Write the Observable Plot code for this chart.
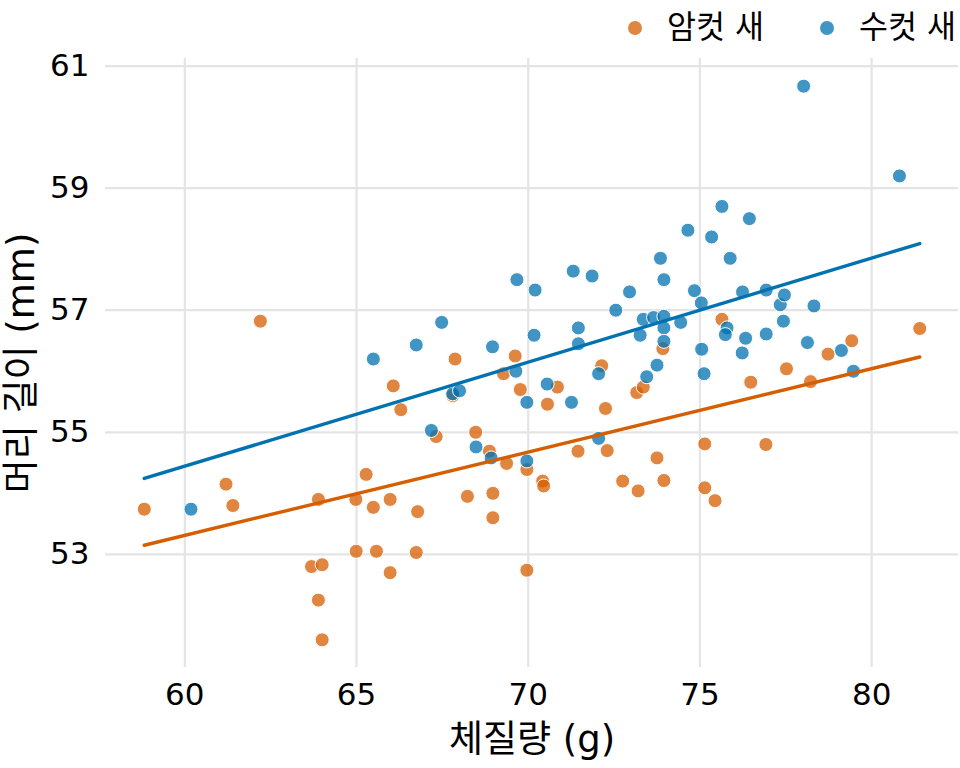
<!DOCTYPE html>
<html>
<head>
<meta charset="utf-8">
<script src="https://cdn.jsdelivr.net/npm/d3@7"></script>
<script src="https://cdn.jsdelivr.net/npm/@observablehq/plot@0.6"></script>
<style>
  html, body { margin: 0; padding: 0; background: #fff; }
  body { width: 960px; height: 768px; overflow: hidden; font-family: "DejaVu Sans", "Noto Sans CJK KR", sans-serif; }
  #legend { height: 40px; padding-top: 16px; display: flex; justify-content: flex-end; align-items: center; padding-right: 4px; box-sizing: border-box; }
  .item { display: flex; align-items: center; font-size: 31.5px; color: #000; line-height: 1; }
  .item + .item { margin-left: 55px; }
  .item svg { margin-right: 24px; }
</style>
</head>
<body>
<div id="legend"></div>
<div id="chart"></div>
<script>
// Female (암컷 새)
const femaleMass = [58.82,61.2,61.4,62.2,63.69,64.0,63.89,64.0,63.89,64.98,65.28,65.49,65.98,64.99,65.58,65.98,66.07,66.29,66.78,66.74,67.32,67.8,67.87,68.23,68.47,68.87,68.97,68.97,69.28,69.37,69.62,69.77,69.96,69.96,70.42,70.45,70.56,70.85,71.45,72.14,72.25,72.3,72.75,73.16,73.35,73.2,73.75,73.92,73.95,75.14,75.14,75.44,75.64,76.48,76.92,77.52,78.22,78.73,79.42,81.4];
const femaleHead = [53.74,54.15,53.8,56.82,52.8,52.83,52.25,51.6,53.9,53.9,54.31,53.77,53.9,53.05,53.05,52.7,55.76,55.37,53.7,53.03,54.93,55.6,56.2,53.95,55.0,54.69,54.0,53.6,55.96,54.49,56.25,55.7,54.39,52.74,54.2,54.12,55.46,55.74,54.69,56.09,55.39,54.7,54.2,55.65,55.74,54.04,54.58,56.37,54.21,54.81,54.09,53.88,56.85,55.82,54.8,56.04,55.83,56.28,56.5,56.7];
// Male (수컷 새)
const maleMass = [60.18,65.49,66.74,67.18,67.48,67.8,68.0,68.48,68.92,68.96,69.64,69.67,69.96,69.96,70.17,70.2,70.55,71.26,71.31,71.46,71.46,71.86,72.05,72.05,72.55,72.95,73.26,73.35,73.45,73.65,73.75,73.85,73.95,73.95,73.95,73.95,74.44,74.65,74.84,75.04,75.05,75.12,75.34,75.64,75.79,75.74,75.88,76.24,76.33,76.23,76.44,76.93,76.93,77.34,77.46,77.43,78.02,78.13,78.32,79.12,79.47,80.81];
const maleHead = [53.74,56.2,56.43,55.03,56.8,55.63,55.68,54.76,54.58,56.4,56.0,57.5,55.49,54.53,56.59,57.33,55.79,55.49,57.64,56.71,56.45,57.56,55.96,54.9,57.0,57.3,56.59,56.85,55.91,56.88,56.1,57.85,57.5,56.9,56.71,56.49,56.8,58.31,57.32,57.12,56.36,55.96,58.2,58.7,56.71,56.6,57.85,57.3,56.54,56.3,58.5,57.33,56.61,57.09,57.25,56.82,60.67,56.47,57.07,56.34,56.0,59.2];

const sexes = ["암컷 새", "수컷 새"];
const colors = ["#D55E00", "#0072B2"];
const xTicks = [60, 65, 70, 75, 80];
const yTicks = [53, 55, 57, 59, 61];
const xTitle = "체질량 (g)";
const yTitle = "머리 길이 (mm)";

const birds = [
  ...femaleMass.map((m, i) => ({mass: m, head: femaleHead[i], sex: sexes[0]})),
  ...maleMass.map((m, i) => ({mass: m, head: maleHead[i], sex: sexes[1]}))
];

// least-squares fit per sex, evaluated over full data range
const xExt = d3.extent(birds, d => d.mass);
const yExt = d3.extent(birds, d => d.head);
function fit(xs, ys) {
  const mx = d3.mean(xs), my = d3.mean(ys);
  let sxy = 0, sxx = 0;
  xs.forEach((x, i) => { sxy += (x - mx) * (ys[i] - my); sxx += (x - mx) ** 2; });
  const b = sxy / sxx, a = my - b * mx;
  return x => a + b * x;
}
const fF = fit(femaleMass, femaleHead);
const fM = fit(maleMass, maleHead);
const fits = [
  ...xExt.map(x => ({mass: x, head: fF(x), sex: sexes[0]})),
  ...xExt.map(x => ({mass: x, head: fM(x), sex: sexes[1]}))
];

const pad = (e, k) => [e[0] - (e[1] - e[0]) * k, e[1] + (e[1] - e[0]) * k];

const font = `"DejaVu Sans", "Noto Sans CJK KR", sans-serif`;

const chart = Plot.plot({
  width: 960,
  height: 728,
  marginTop: 18,
  marginBottom: 101,
  marginLeft: 105,
  marginRight: 2,
  style: {fontFamily: font, background: "#fff", color: "#000", overflow: "visible"},
  x: {domain: pad(xExt, 0.05)},
  y: {domain: pad(yExt, 0.05)},
  color: {domain: sexes, range: colors},
  marks: [
    Plot.gridX(xTicks, {stroke: "#e4e4e4", strokeOpacity: 1, strokeWidth: 2.2}),
    Plot.gridY(yTicks, {stroke: "#e4e4e4", strokeOpacity: 1, strokeWidth: 2.2}),
    Plot.axisX(xTicks, {tickSize: 0, tickPadding: 15, fontSize: 31, label: null, tickFormat: d3.format("d")}),
    Plot.axisY(yTicks, {tickSize: 0, tickPadding: 16, fontSize: 31, label: null, tickFormat: d3.format("d")}),
    Plot.text([xTitle], {frameAnchor: "bottom", dy: 84, fontSize: 37, fill: "#000", textAnchor: "middle"}),
    Plot.text([yTitle], {frameAnchor: "left", dx: -83, rotate: -90, fontSize: 37, fill: "#000", textAnchor: "middle"}),
    Plot.dot(birds, {x: "mass", y: "head", fill: "sex", fillOpacity: 0.75, stroke: "#fff", strokeWidth: 1, r: 7}),
    Plot.line(fits, {x: "mass", y: "head", stroke: "sex", strokeWidth: 3.4})
  ]
});
document.getElementById("chart").appendChild(chart);

// legend
const legend = document.getElementById("legend");
sexes.forEach((s, i) => {
  const item = document.createElement("div");
  item.className = "item";
  item.innerHTML = `<svg width="16" height="16"><circle cx="8" cy="8" r="7" fill="${colors[i]}" fill-opacity="0.75"></circle></svg><span>${s}</span>`;
  legend.appendChild(item);
});
</script>
</body>
</html>
